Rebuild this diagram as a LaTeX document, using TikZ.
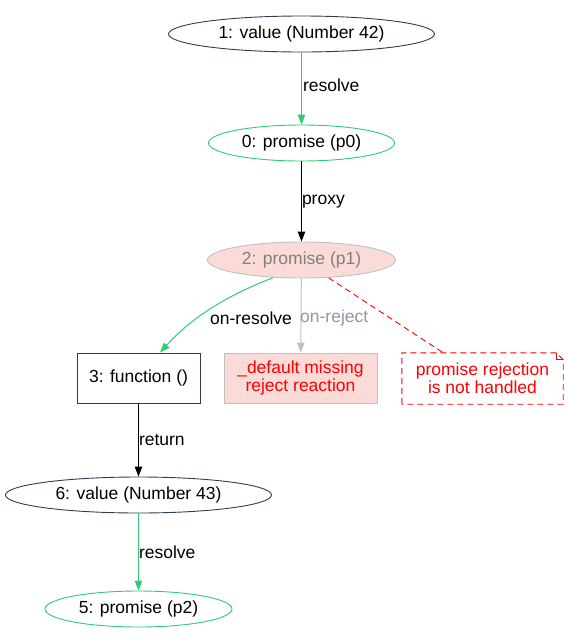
\documentclass[tikz,border=0pt]{standalone}
\usepackage{fontspec}
\setmainfont{Liberation Sans}
\usetikzlibrary{shapes.geometric,arrows.meta}
\definecolor{slate}{HTML}{2C3E50}
\definecolor{pgreen}{HTML}{2ECC71}
\definecolor{pinkfill}{HTML}{FADBD8}
\definecolor{lgray}{HTML}{C0C0C0}
\definecolor{tgray}{HTML}{808080}
\definecolor{bgray}{HTML}{8C99A6}
\definecolor{pred}{HTML}{FF0000}
\begin{document}
\begin{tikzpicture}[x=1pt,y=-1pt,
  every node/.style={font=\fontsize{17.5}{19}\selectfont, inner sep=0pt},
  ell/.style={ellipse, draw=slate, line width=0.9pt, minimum height=36pt},
  gell/.style={ellipse, draw=pgreen, line width=0.9pt, minimum height=36pt},
  pell/.style={ellipse, draw=lgray, fill=pinkfill, text=tgray, line width=0.9pt, minimum height=36pt},
  fbox/.style={rectangle, draw=slate, line width=0.9pt, minimum height=50pt},
  dbox/.style={rectangle, draw=lgray, fill=pinkfill, text=pred, line width=0.9pt, minimum height=50pt, align=center},
  arr/.style={-{Triangle[length=10pt,width=7.5pt]}, line width=1pt},
  garr/.style={arr, draw=pgreen},
  barr/.style={arr, draw=black},
  grarr/.style={arr, draw=lgray},
  reddash/.style={draw=pred, dash pattern=on 6pt off 4pt, line width=0.9pt},
  lbl/.style={anchor=west},
]
\useasboundingbox (0,0) rectangle (568,641);
\node[ell, minimum width=266pt] (n1) at (301.5,34) {1: value (Number 42)};
\node[gell, minimum width=186pt] (n0) at (301.5,143) {0: promise (p0)};
\node[pell, minimum width=188pt] (n2) at (301.5,260) {2: promise (p1)};
\node[fbox, minimum width=123pt] (n3) at (138.5,378) {3: function ()};
\node[dbox, minimum width=153pt] (d) at (300.5,378) {\_default missing\\[-1pt]reject reaction};
\node[rectangle, minimum width=161pt, minimum height=51pt, text=pred, align=center] (note) at (482.5,378.5) {promise rejection\\[-1pt]is not handled};
\draw[reddash]
  (note.south west) -- (note.north west) -- ([xshift=-7pt]note.north east) -- ([yshift=-7pt]note.north east) -- (note.south east) -- cycle;
\draw[reddash, dash pattern=]
  ([xshift=-7pt]note.north east) -- ([xshift=-7pt,yshift=-7pt]note.north east) -- ([yshift=-7pt]note.north east);
\node[ell, minimum width=266pt] (n6) at (138.5,495) {6: value (Number 43)};
\node[gell, minimum width=187pt] (n5) at (138.5,609) {5: promise (p2)};

\draw[garr] (n1) -- (n0) node[lbl, pos=0.46, xshift=1pt] (l1) {resolve};
\draw[barr] (n0) -- (n2) node[lbl, pos=0.5, xshift=0pt] (l2) {proxy};
\draw[garr] (n2.212) .. controls (215,300) and (185,325) .. ([xshift=21.5pt]n3.north);
\node[anchor=west] (l3) at (210,318) {on-resolve};
\draw[grarr] (n2) -- (d);
\node[anchor=west, text=bgray] (l4) at (300,318) {on-reject};
\draw[reddash] (n2) -- (note);
\draw[barr] (n3) -- (n6) node[lbl, pos=0.5, xshift=0pt] (l5) {return};
\draw[garr] (n6) -- (n5) node[lbl, pos=0.5, xshift=0pt] (l6) {resolve};
\end{tikzpicture}
\end{document}
